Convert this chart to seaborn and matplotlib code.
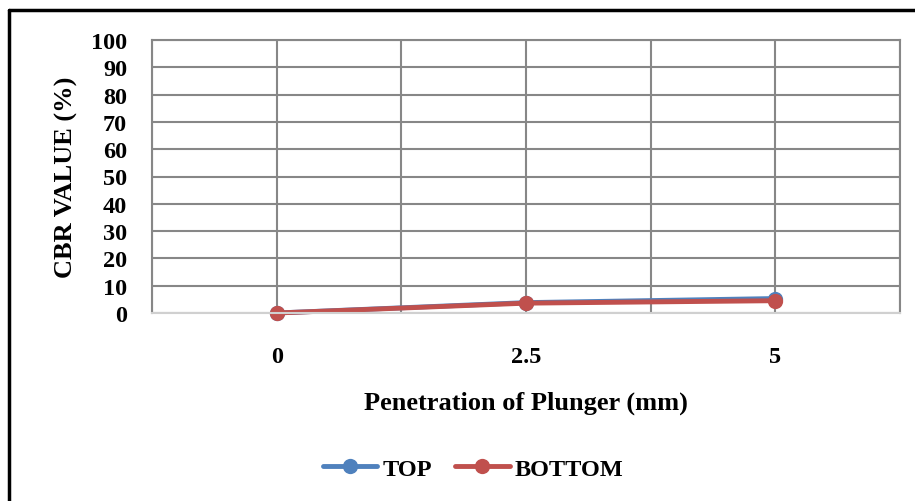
import numpy as np
import pandas as pd
import matplotlib
matplotlib.use("Agg")
import matplotlib.pyplot as plt
from matplotlib.lines import Line2D
from matplotlib.ticker import FixedLocator
import seaborn as sns

# CBR test readings
penetration = ["0", "2.5", "5"]
top_values = [0.0, 3.8, 5.3]
bottom_values = [0.0, 3.6, 4.5]
series_names = ["TOP", "BOTTOM"]
y_ticks = list(range(0, 101, 10))

sns.set_theme(style="white")
plt.rcParams["font.family"] = ["Liberation Serif", "DejaVu Serif"]
plt.rcParams["font.weight"] = "bold"
plt.rcParams["text.color"] = "black"
plt.rcParams["axes.labelcolor"] = "black"
plt.rcParams["xtick.color"] = "black"
plt.rcParams["ytick.color"] = "black"

pos = np.arange(len(penetration))
df = pd.DataFrame({
    "pos": np.concatenate([pos, pos]),
    "CBR": top_values + bottom_values,
    "Series": [series_names[0]] * len(pos) + [series_names[1]] * len(pos),
})

W, H = 915, 502
fig = plt.figure(figsize=(W / 100, H / 100), dpi=100)
ax = fig.add_axes([152 / W, 1 - 314 / H, (900 - 152) / W, (314 - 41) / H])

palette = {"TOP": "#4F81BD", "BOTTOM": "#C0504D"}
sns.lineplot(data=df, x="pos", y="CBR", hue="Series", palette=palette,
             marker="o", markersize=11, markeredgewidth=0, linewidth=3.5,
             sort=False, ax=ax, legend=False, clip_on=False)

ax.set_xlim(-0.5, len(penetration) - 0.5)
ax.set_ylim(0, 100)
ax.set_xticks(pos)
ax.set_xticklabels(penetration)
ax.xaxis.set_minor_locator(FixedLocator(np.arange(-0.5, len(penetration), 1.0)))
ax.set_yticks(y_ticks)
ax.set_yticklabels([str(v) for v in y_ticks])
ax.grid(True, which="both", color="#878787", linewidth=1.5)
ax.set_axisbelow(True)
ax.tick_params(which="both", length=0)
ax.tick_params(axis="y", pad=18, labelsize=17.5, labelcolor="black")
ax.tick_params(axis="x", pad=24, labelsize=17.5, labelcolor="black")
for lab in ax.get_xticklabels() + ax.get_yticklabels():
    lab.set_fontweight("bold")

for side in ["left", "top", "right"]:
    ax.spines[side].set_color("#878787")
    ax.spines[side].set_linewidth(1.5)
ax.spines["bottom"].set_color("#d0d0d0")
ax.spines["bottom"].set_linewidth(1.5)

ax.set_xlabel("Penetration of Plunger (mm)", fontsize=19, fontweight="bold",
              labelpad=17, color="black")
ax.set_ylabel("CBR VALUE (%)", fontsize=19, fontweight="bold", labelpad=9, color="black")

handles = [Line2D([], [], color=palette[s], marker="o", markersize=11,
                  markeredgewidth=0, linewidth=3.5) for s in series_names]
fig.legend(handles, series_names, loc="center", bbox_to_anchor=(473 / W, 1 - 470 / H),
           ncol=2, frameon=False, handlelength=2.25, columnspacing=0.95,
           handletextpad=0.2, prop={"size": 17.5, "weight": "bold"})

# outer frame of the figure
fig.add_artist(Line2D([8.5 / W, 1], [1 - 10.5 / H] * 2, color="black", linewidth=2.5,
                      transform=fig.transFigure))
fig.add_artist(Line2D([8.5 / W] * 2, [0, 1 - 10.5 / H], color="black", linewidth=2.5,
                      transform=fig.transFigure))

fig.savefig("out.png", dpi=100)
